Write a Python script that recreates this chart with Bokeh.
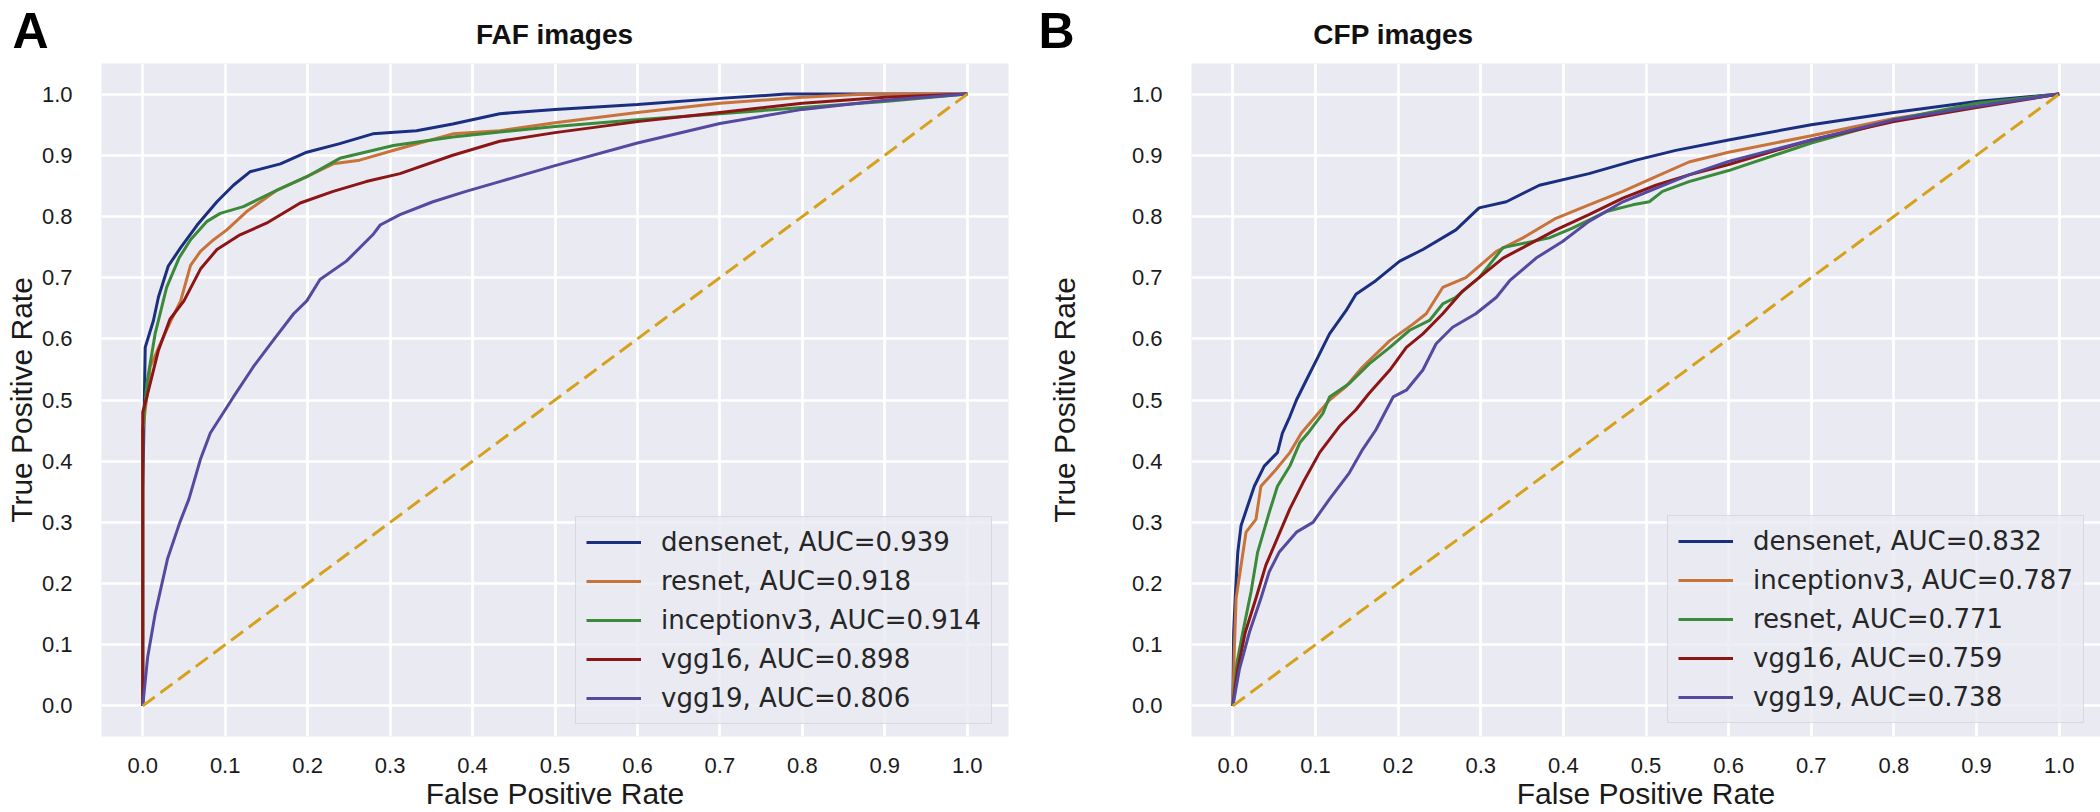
from bokeh.plotting import figure
from bokeh.layouts import row, column
from bokeh.models import Legend, LegendItem, Label, FixedTicker, PrintfTickFormatter
from bokeh.embed import file_html
from bokeh.resources import INLINE

# ---------------- data ----------------
tick_labels = ["0.0", "0.1", "0.2", "0.3", "0.4", "0.5", "0.6", "0.7", "0.8", "0.9", "1.0"]
chance_fpr = [0.0, 1.0]
chance_tpr = [0.0, 1.0]

panel_letters = ["A", "B"]
panel_titles = ["FAF images", "CFP images"]

# Panel A: FAF images
faf_models = ["densenet", "resnet", "inceptionv3", "vgg16", "vgg19"]
faf_auc = ["0.939", "0.918", "0.914", "0.898", "0.806"]

faf_densenet_fpr = [0.0, 0.0, 0.002, 0.003, 0.013, 0.019, 0.031, 0.046, 0.066, 0.09, 0.11, 0.13, 0.167, 0.199, 0.239, 0.279, 0.332, 0.376, 0.433, 0.5, 0.6, 0.7, 0.78, 0.9, 1.0]
faf_densenet_tpr = [0.0, 0.35, 0.5, 0.586, 0.63, 0.668, 0.719, 0.749, 0.786, 0.824, 0.851, 0.873, 0.886, 0.905, 0.919, 0.935, 0.94, 0.951, 0.968, 0.975, 0.983, 0.993, 1.0, 1.0, 1.0]

faf_resnet_fpr = [0.0, 0.0, 0.005, 0.009, 0.023, 0.035, 0.046, 0.058, 0.07, 0.086, 0.102, 0.126, 0.163, 0.199, 0.231, 0.263, 0.312, 0.376, 0.433, 0.5, 0.6, 0.7, 0.8, 0.88, 1.0]
faf_resnet_tpr = [0.0, 0.45, 0.505, 0.554, 0.597, 0.632, 0.662, 0.72, 0.743, 0.762, 0.778, 0.808, 0.843, 0.865, 0.886, 0.892, 0.911, 0.935, 0.94, 0.953, 0.97, 0.985, 0.995, 1.0, 1.0]

faf_inception_fpr = [0.0, 0.0, 0.005, 0.015, 0.029, 0.044, 0.058, 0.078, 0.094, 0.122, 0.163, 0.199, 0.239, 0.304, 0.376, 0.433, 0.5, 0.6, 0.7, 0.8, 0.9, 1.0]
faf_inception_tpr = [0.0, 0.45, 0.527, 0.608, 0.684, 0.732, 0.762, 0.792, 0.805, 0.816, 0.843, 0.865, 0.895, 0.916, 0.93, 0.938, 0.947, 0.958, 0.968, 0.978, 0.988, 1.0]

faf_vgg16_fpr = [0.0, 0.0, 0.005, 0.019, 0.033, 0.05, 0.07, 0.09, 0.118, 0.15, 0.191, 0.231, 0.271, 0.312, 0.376, 0.433, 0.5, 0.6, 0.7, 0.8, 0.9, 1.0]
faf_vgg16_tpr = [0.0, 0.48, 0.505, 0.581, 0.632, 0.662, 0.714, 0.746, 0.77, 0.789, 0.822, 0.841, 0.857, 0.87, 0.9, 0.923, 0.937, 0.955, 0.97, 0.985, 0.995, 1.0]

faf_vgg19_fpr = [0.0, 0.006, 0.015, 0.03, 0.045, 0.056, 0.07, 0.082, 0.11, 0.134, 0.158, 0.183, 0.199, 0.215, 0.247, 0.279, 0.288, 0.312, 0.352, 0.392, 0.433, 0.5, 0.6, 0.7, 0.8, 0.9, 1.0]
faf_vgg19_tpr = [0.0, 0.08, 0.15, 0.24, 0.3, 0.338, 0.403, 0.446, 0.505, 0.554, 0.597, 0.641, 0.662, 0.697, 0.727, 0.77, 0.786, 0.803, 0.824, 0.841, 0.857, 0.883, 0.92, 0.952, 0.975, 0.99, 1.0]

# Panel B: CFP images
cfp_models = ["densenet", "inceptionv3", "resnet", "vgg16", "vgg19"]
cfp_auc = ["0.832", "0.787", "0.771", "0.759", "0.738"]

cfp_densenet_fpr = [0.0, 0.001, 0.003, 0.006, 0.01, 0.018, 0.026, 0.038, 0.054, 0.06, 0.069, 0.077, 0.091, 0.103, 0.117, 0.137, 0.149, 0.173, 0.202, 0.23, 0.27, 0.298, 0.331, 0.371, 0.431, 0.488, 0.536, 0.6, 0.7, 0.8, 0.9, 1.0]
cfp_densenet_tpr = [0.0, 0.12, 0.18, 0.251, 0.295, 0.327, 0.359, 0.392, 0.414, 0.446, 0.473, 0.5, 0.538, 0.57, 0.608, 0.646, 0.673, 0.695, 0.727, 0.746, 0.778, 0.814, 0.824, 0.851, 0.87, 0.892, 0.908, 0.925, 0.95, 0.97, 0.988, 1.0]

cfp_inception_fpr = [0.0, 0.002, 0.004, 0.016, 0.028, 0.034, 0.052, 0.069, 0.083, 0.097, 0.117, 0.137, 0.157, 0.19, 0.218, 0.234, 0.254, 0.282, 0.319, 0.351, 0.391, 0.431, 0.472, 0.512, 0.552, 0.6, 0.7, 0.8, 0.9, 1.0]
cfp_inception_tpr = [0.0, 0.1, 0.176, 0.284, 0.305, 0.359, 0.386, 0.414, 0.446, 0.468, 0.5, 0.522, 0.554, 0.597, 0.624, 0.641, 0.684, 0.7, 0.743, 0.765, 0.797, 0.819, 0.841, 0.865, 0.889, 0.905, 0.932, 0.96, 0.98, 1.0]

cfp_resnet_fpr = [0.0, 0.005, 0.012, 0.022, 0.03, 0.044, 0.054, 0.069, 0.081, 0.091, 0.109, 0.117, 0.141, 0.165, 0.19, 0.214, 0.238, 0.254, 0.27, 0.298, 0.327, 0.383, 0.411, 0.452, 0.484, 0.504, 0.52, 0.552, 0.6, 0.7, 0.8, 0.9, 1.0]
cfp_resnet_tpr = [0.0, 0.07, 0.12, 0.186, 0.251, 0.316, 0.359, 0.392, 0.43, 0.446, 0.478, 0.505, 0.527, 0.559, 0.586, 0.614, 0.63, 0.657, 0.668, 0.7, 0.749, 0.765, 0.781, 0.808, 0.819, 0.824, 0.841, 0.857, 0.875, 0.92, 0.958, 0.985, 1.0]

cfp_vgg16_fpr = [0.0, 0.006, 0.015, 0.028, 0.04, 0.052, 0.069, 0.085, 0.105, 0.129, 0.149, 0.165, 0.19, 0.21, 0.23, 0.254, 0.278, 0.298, 0.327, 0.351, 0.391, 0.431, 0.472, 0.512, 0.552, 0.6, 0.7, 0.8, 0.9, 1.0]
cfp_vgg16_tpr = [0.0, 0.06, 0.12, 0.176, 0.23, 0.268, 0.322, 0.365, 0.414, 0.457, 0.484, 0.511, 0.549, 0.586, 0.608, 0.641, 0.678, 0.7, 0.732, 0.749, 0.778, 0.803, 0.83, 0.851, 0.868, 0.885, 0.925, 0.955, 0.978, 1.0]

cfp_vgg19_fpr = [0.0, 0.008, 0.02, 0.034, 0.044, 0.056, 0.077, 0.097, 0.117, 0.141, 0.157, 0.173, 0.194, 0.21, 0.23, 0.246, 0.266, 0.294, 0.319, 0.335, 0.367, 0.399, 0.431, 0.472, 0.512, 0.552, 0.6, 0.7, 0.8, 0.9, 1.0]
cfp_vgg19_tpr = [0.0, 0.06, 0.12, 0.176, 0.219, 0.251, 0.284, 0.3, 0.338, 0.381, 0.419, 0.451, 0.505, 0.516, 0.549, 0.592, 0.619, 0.641, 0.668, 0.695, 0.732, 0.759, 0.792, 0.824, 0.846, 0.868, 0.89, 0.925, 0.958, 0.98, 1.0]

# ---------------- style ----------------
BG = "#eaeaf2"
COLORS = ["#1b2f80", "#c8733a", "#3a8a3a", "#8c1616", "#5549a0"]
CHANCE_COLOR = "#d6a21c"
LW = 3
TEXT = "#1a1a1a"

HEADER_H = 63
PLOT_H = 749


def build(width, min_left, min_right, models, aucs, curves, legend_loc, ylab_standoff):
    p = figure(width=width, height=PLOT_H, x_range=(-0.05, 1.05), y_range=(-0.05, 1.05),
               output_backend="svg", toolbar_location=None, title=None,
               min_border_left=min_left, min_border_right=min_right,
               min_border_top=0, min_border_bottom=74)
    p.background_fill_color = BG
    p.border_fill_color = "white"
    p.outline_line_color = None
    ticks = [float(t) for t in tick_labels]
    for ax in (p.xaxis[0], p.yaxis[0]):
        ax.ticker = FixedTicker(ticks=ticks)
        ax.formatter = PrintfTickFormatter(format="%.1f")
        ax.axis_line_color = None
        ax.major_tick_line_color = None
        ax.minor_tick_line_color = None
        ax.major_label_text_font = "Liberation Sans"
        ax.major_label_text_font_size = "22px"
        ax.major_label_text_color = TEXT
        ax.axis_label_text_font = "Liberation Sans"
        ax.axis_label_text_font_size = "30px"
        ax.axis_label_text_font_style = "normal"
        ax.axis_label_text_color = TEXT
    p.xaxis.axis_label = "False Positive Rate"
    p.yaxis.axis_label = "True Positive Rate"
    p.xaxis.major_label_standoff = 15
    p.xaxis.axis_label_standoff = 1
    p.yaxis.major_label_standoff = 23
    p.yaxis.axis_label_standoff = ylab_standoff
    p.grid.grid_line_color = "white"
    p.grid.grid_line_width = 2.7

    items = []
    for i, (m, a, (fx, ty)) in enumerate(zip(models, aucs, curves)):
        r = p.line(fx, ty, line_color=COLORS[i], line_width=LW)
        items.append(LegendItem(label=f"{m}, AUC={a}", renderers=[r]))
    p.line(chance_fpr, chance_tpr, line_color=CHANCE_COLOR, line_width=LW, line_dash="15 7")

    legend = Legend(items=items, location=legend_loc)
    legend.label_text_font = "DejaVu Sans"
    legend.label_text_font_size = "26px"
    legend.label_text_color = "#262626"
    legend.glyph_width = 55
    legend.glyph_height = 30
    legend.label_height = 30
    legend.spacing = 9
    legend.padding = 10
    legend.label_standoff = 20
    legend.border_line_color = "#c8c8c8"
    legend.border_line_width = 1.5
    legend.background_fill_color = BG
    legend.background_fill_alpha = 0.8
    p.add_layout(legend)
    return p


# header strip with the panel letters and panel titles (pixel coordinates, y downward)
hdr = figure(width=2100, height=HEADER_H, x_range=(0, 2100), y_range=(HEADER_H, 0),
             output_backend="svg", toolbar_location=None, title=None,
             x_axis_type=None, y_axis_type=None, min_border=0)
hdr.outline_line_color = None
hdr.background_fill_color = "white"
hdr.border_fill_color = "white"
hdr.grid.visible = False
letter_x = [12, 1038]
title_x = [554, 1393]
for lx, letter in zip(letter_x, panel_letters):
    hdr.add_layout(Label(x=lx, y=2, text=letter, text_font="Liberation Sans",
                         text_font_style="bold", text_font_size="50px", text_color="black",
                         text_baseline="top", text_align="left"))
for tx, title in zip(title_x, panel_titles):
    hdr.add_layout(Label(x=tx, y=18, text=title, text_font="Liberation Sans",
                         text_font_style="bold", text_font_size="28px", text_color="#111111",
                         text_baseline="top", text_align="center"))

p1 = build(1040, 101, 32, faf_models, faf_auc,
           [(faf_densenet_fpr, faf_densenet_tpr), (faf_resnet_fpr, faf_resnet_tpr),
            (faf_inception_fpr, faf_inception_tpr), (faf_vgg16_fpr, faf_vgg16_tpr),
            (faf_vgg19_fpr, faf_vgg19_tpr)],
           (474, 12), 1)

p2 = build(1060, 151, 0, cfp_models, cfp_auc,
           [(cfp_densenet_fpr, cfp_densenet_tpr), (cfp_inception_fpr, cfp_inception_tpr),
            (cfp_resnet_fpr, cfp_resnet_tpr), (cfp_vgg16_fpr, cfp_vgg16_tpr),
            (cfp_vgg19_fpr, cfp_vgg19_tpr)],
           (476, 13), 48)

layout = column(hdr, row(p1, p2))
open("out.html", "w").write(file_html(layout, INLINE))
